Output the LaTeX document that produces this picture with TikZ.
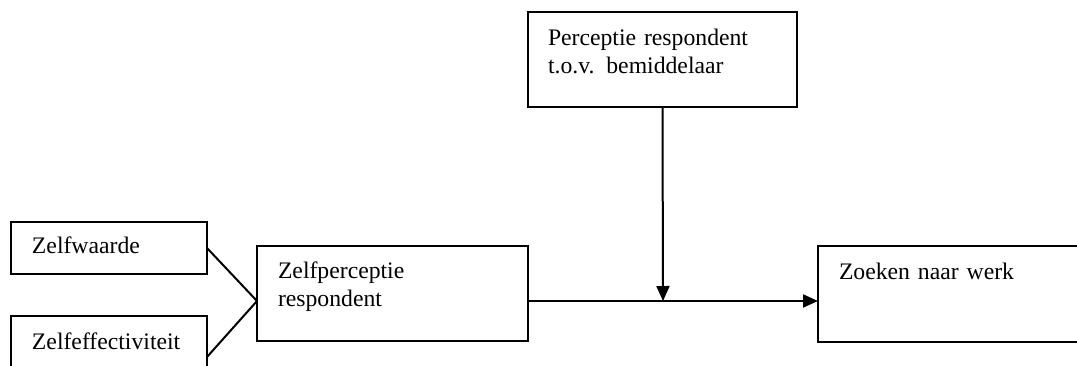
\documentclass[tikz,border=0pt]{standalone}
\usepackage{fontspec}
\setmainfont{Liberation Serif}
\usetikzlibrary{arrows.meta}
\tikzset{
	box/.style={draw, line width=1pt, anchor=north west, align=left, outer sep=0pt,
		inner ysep=0pt, inner xsep=10.5pt, font=\fontsize{11.85}{14}\selectfont},
	link/.style={line width=1pt},
	arrowlink/.style={line width=1pt, -{Triangle[length=7.5pt,width=6.5pt]}}
}

\begin{document}
\begin{tikzpicture}[x=0.5pt, y=-0.5pt]
			%%%%% START %%%%%
			
			\useasboundingbox (0, 0) rectangle (1077, 365);
			\clip (0, 0) rectangle (1077, 365);
			
			\node[box, text width=77pt, text height=15.5pt, text depth=10.5pt] (waarde) at (11, 222) {Zelfwaarde};
			\node[box, text width=77pt, text height=16.5pt, text depth=24.5pt] (effect) at (11, 316) {Zelfeffectiviteit};
			
			\node[box, text width=114.5pt, text height=16pt, text depth=31.5pt] (zelfpercep) at (257, 246) {Zelfperceptie\\respondent};
			\node[box, inner xsep=10pt, text width=114.5pt, text height=16.5pt, text depth=31pt] (percep) at (528, 12) {Perceptie respondent\\t.o.v. bemiddelaar};
			\node[box, text width=117.5pt, text height=16.5pt, text depth=31.5pt] (zoeken) at (818, 246) {Zoeken naar werk};
			
			\coordinate (join) at (663, 301);
			
			\draw[link] (waarde.east) -- (zelfpercep.west |- join);
			\draw[link] (effect.east) -- (zelfpercep.west |- join);
			
			\draw[arrowlink] (zelfpercep.east |- join) -- (zoeken.west |- join);
			\draw[arrowlink] (percep.south) -- (join);
			
			%%%%% END %%%%%
\end{tikzpicture}
\end{document}
